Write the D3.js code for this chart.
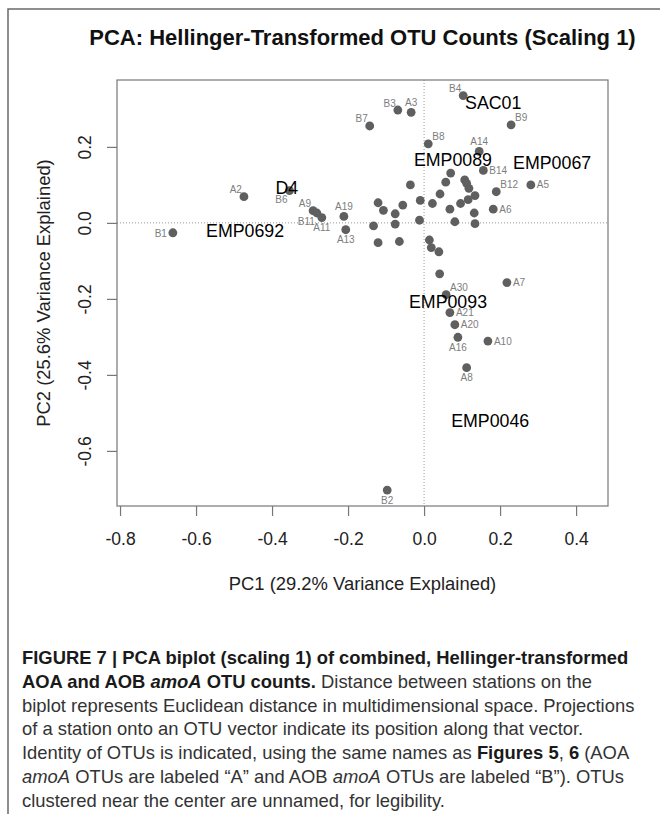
<!DOCTYPE html>
<html>
<head>
<meta charset="utf-8">
<script src="https://cdn.jsdelivr.net/npm/d3@7"></script>
<style>
body { margin: 0; background: #fff; }
text { font-family: "Liberation Sans", Arial, Helvetica, sans-serif; }
</style>
</head>
<body>
<script>
// Labelled OTU scores.
var otuNames = ["B4","B3","A3","B7","B9","B8","A14","B14","A5","B12","A6","A2","B6","B1",
  "A9","B11","A11","A19","A13","A30","A7","A21","A20","A16","A10","A8","B2"];
var otuX = [0.103,-0.069,-0.034,-0.143,0.229,0.011,0.145,0.156,0.281,0.190,0.182,-0.474,-0.354,-0.661,
  -0.292,-0.282,-0.269,-0.211,-0.206,0.058,0.218,0.068,0.081,0.089,0.168,0.112,-0.097];
var otuY = [0.335,0.297,0.291,0.255,0.258,0.208,0.188,0.138,0.100,0.082,0.036,0.069,0.085,-0.026,
  0.032,0.026,0.014,0.017,-0.018,-0.189,-0.157,-0.236,-0.268,-0.301,-0.311,-0.381,-0.703];
// where each OTU name sits relative to its dot
var otuLabelPos = ["tl","tl","t","tl","tr","tr","t","r","r","tr","r","tl","bl","l",
  "tl","bl","b","t","b","tr","r","r","r","b","r","b","b"];

// Unnamed OTUs clustered near the centre.
var clusterX = [-0.121,-0.107,-0.133,-0.121,-0.076,-0.076,-0.056,-0.065,-0.036,-0.010,-0.012,0.022,0.014,0.019,0.039,
  0.041,0.042,0.057,0.070,0.068,0.081,0.096,0.107,0.112,0.118,0.116,0.134,0.132,0.134];
var clusterY = [0.053,0.033,-0.008,-0.052,0.024,-0.003,0.047,-0.049,0.100,0.059,0.007,0.051,-0.045,-0.065,-0.076,
  -0.134,0.076,0.107,0.131,0.036,0.003,0.051,0.113,0.104,0.091,0.061,0.072,0.026,-0.002];

// Station scores.
var siteNames = ["SAC01","EMP0089","EMP0067","D4","EMP0692","EMP0093","EMP0046"];
var siteX = [0.182,0.076,0.337,-0.361,-0.471,0.063,0.174];
var siteY = [0.316,0.166,0.158,0.092,-0.021,-0.208,-0.520];

var xTicks = [-0.8,-0.6,-0.4,-0.2,0.0,0.2,0.4];
var yTicks = [-0.6,-0.4,-0.2,0.0,0.2];

var captionLines = [
  [["b","FIGURE 7 | PCA biplot (scaling 1) of combined, Hellinger-transformed"]],
  [["b","AOA and AOB "],["bi","amoA"],["b"," OTU counts."],["r"," Distance between stations on the"]],
  [["r","biplot represents Euclidean distance in multidimensional space. Projections"]],
  [["r","of a station onto an OTU vector indicate its position along that vector."]],
  [["r","Identity of OTUs is indicated, using the same names as "],["b","Figures 5"],["r",", "],["b","6"],["r"," (AOA"]],
  [["i","amoA"],["r"," OTUs are labeled \u201cA\u201d and AOB "],["i","amoA"],["r"," OTUs are labeled \u201cB\u201d). OTUs"]],
  [["r","clustered near the center are unnamed, for legibility."]]
];

var W = 660, H = 814;
var box = {left: 117, right: 608, top: 80, bottom: 506};

var svg = d3.select("body")
  .append("svg")
  .attr("width", W)
  .attr("height", H);

// figure frame (top and left rule)
svg.append("path")
  .attr("d", "M8," + H + "V9H" + W)
  .attr("fill", "none")
  .attr("stroke", "#6a6a6a")
  .attr("stroke-width", 1.5);

var x = d3.scaleLinear().domain([-0.808, 0.484]).range([box.left, box.right]);
var y = d3.scaleLinear().domain([-0.745, 0.376]).range([box.bottom, box.top]);

// title
svg.append("text")
  .attr("x", (box.left + box.right) / 2)
  .attr("y", 45)
  .attr("text-anchor", "middle")
  .attr("font-size", 22)
  .attr("font-weight", "bold")
  .attr("fill", "#111")
  .text("PCA: Hellinger-Transformed OTU Counts (Scaling 1)");

// zero lines
svg.append("line")
  .attr("x1", box.left).attr("x2", box.right)
  .attr("y1", y(0)).attr("y2", y(0))
  .attr("stroke", "#999").attr("stroke-dasharray", "1,2");
svg.append("line")
  .attr("x1", x(0)).attr("x2", x(0))
  .attr("y1", box.top).attr("y2", box.bottom)
  .attr("stroke", "#999").attr("stroke-dasharray", "1,2");

// axes
var fmt = function(d){ return d.toFixed(1); };
var xAxis = svg.append("g")
  .attr("transform", "translate(0," + box.bottom + ")")
  .call(d3.axisBottom(x).tickValues(xTicks).tickFormat(fmt).tickSize(10).tickPadding(17));
var yAxis = svg.append("g")
  .attr("transform", "translate(" + box.left + ",0)")
  .call(d3.axisLeft(y).tickValues(yTicks).tickFormat(fmt).tickSize(10));
[xAxis, yAxis].forEach(function(g){
  g.select(".domain").remove();
  g.selectAll("line").attr("stroke", "#777").attr("stroke-width", 1.2);
  g.selectAll("text").attr("font-size", 17.5).attr("fill", "#222")
    .style("font-family", "'Liberation Sans', Arial, sans-serif");
});
yAxis.selectAll("text")
  .attr("text-anchor", "middle")
  .attr("transform", "rotate(-90)")
  .attr("x", 0)
  .attr("y", -32)
  .attr("dy", "0.35em");

// plot box
svg.append("rect")
  .attr("x", box.left).attr("y", box.top)
  .attr("width", box.right - box.left).attr("height", box.bottom - box.top)
  .attr("fill", "none").attr("stroke", "#777").attr("stroke-width", 1.2);

// axis titles
svg.append("text")
  .attr("x", (box.left + box.right) / 2)
  .attr("y", 590)
  .attr("text-anchor", "middle")
  .attr("font-size", 18.4)
  .attr("fill", "#222")
  .text("PC1 (29.2% Variance Explained)");
svg.append("text")
  .attr("transform", "translate(44," + (box.top + box.bottom) / 2 + ") rotate(-90)")
  .attr("text-anchor", "middle")
  .attr("dy", "0.35em")
  .attr("font-size", 18.4)
  .attr("fill", "#222")
  .text("PC2 (25.6% Variance Explained)");

// points
var otus = otuNames.map(function(n, i){ return {name: n, x: otuX[i], y: otuY[i], pos: otuLabelPos[i]}; });
var cluster = clusterX.map(function(v, i){ return {x: v, y: clusterY[i]}; });

svg.append("g").selectAll("circle")
  .data(cluster.concat(otus))
  .enter()
  .append("circle")
  .attr("cx", function(d){ return x(d.x); })
  .attr("cy", function(d){ return y(d.y); })
  .attr("r", 4.4)
  .attr("fill", "#5f5f5f");

// OTU names
var offs = {
  t:  [0, -9.5, "middle"],
  b:  [0, 10, "middle"],
  l:  [-6, 1, "end"],
  r:  [6, 0, "start"],
  tl: [-2, -7, "end"],
  tr: [4, -7, "start"],
  bl: [-2, 8.5, "end"]
};
svg.append("g").selectAll("text")
  .data(otus)
  .enter()
  .append("text")
  .attr("x", function(d){ return x(d.x) + offs[d.pos][0]; })
  .attr("y", function(d){ return y(d.y) + offs[d.pos][1]; })
  .attr("dy", "0.35em")
  .attr("text-anchor", function(d){ return offs[d.pos][2]; })
  .attr("font-size", 10)
  .attr("fill", "#7d7d7d")
  .text(function(d){ return d.name; });

// station names
svg.append("g").selectAll("text")
  .data(siteNames)
  .enter()
  .append("text")
  .attr("x", function(d, i){ return x(siteX[i]); })
  .attr("y", function(d, i){ return y(siteY[i]); })
  .attr("dy", "0.35em")
  .attr("text-anchor", "middle")
  .attr("font-size", 17.8)
  .attr("fill", "#000")
  .text(function(d){ return d; });

// caption
var cap = svg.append("g");
captionLines.forEach(function(line, i){
  var t = cap.append("text")
    .attr("x", 22)
    .attr("y", 664 + i * 23.8)
    .attr("font-size", 18.4)
    .attr("fill", "#333")
    .attr("xml:space", "preserve");
  line.forEach(function(seg){
    t.append("tspan")
      .attr("font-weight", seg[0] == "b" || seg[0] == "bi" ? "bold" : null)
      .attr("font-style", seg[0] == "i" || seg[0] == "bi" ? "italic" : null)
      .attr("fill", seg[0] == "b" || seg[0] == "bi" ? "#1a1a1a" : null)
      .text(seg[1]);
  });
});
</script>
</body>
</html>
